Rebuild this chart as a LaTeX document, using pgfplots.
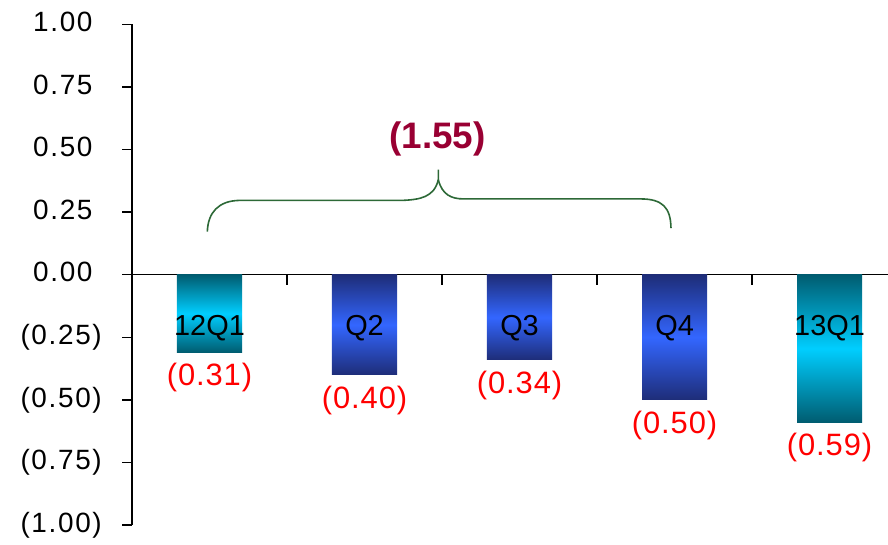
\documentclass[border=0pt]{standalone}
\usepackage{fontspec}
\setmainfont{Liberation Sans}
\usepackage{pgfplots}
\pgfplotsset{compat=1.18}
\definecolor{tealdark}{RGB}{0,92,112}
\definecolor{cyanlight}{RGB}{0,206,255}
\definecolor{navy}{RGB}{30,45,120}
\definecolor{bblue}{RGB}{51,102,255}
\definecolor{bracegreen}{RGB}{45,105,55}
\definecolor{labelmaroon}{RGB}{153,0,51}
\begin{document}
\begin{tikzpicture}[x=1bp,y=1bp]
\useasboundingbox (0,0) rectangle (888,545);
\begin{axis}[
  at={(132bp,20bp)}, anchor=south west,
  scale only axis, width=756bp, height=500.5bp,
  xmin=-0.5, xmax=4.377, ymin=-1, ymax=1,
  axis x line=middle, axis y line=left,
  axis line style={-, line width=1.5bp, black},
  xtick={0.5,1.5,2.5,3.5}, xticklabels={},
  ytick={-1,-0.75,-0.5,-0.25,0,0.25,0.5,0.75,1},
  yticklabels={(1.00),(0.75),(0.50),(0.25),0.00\phantom{)},0.25\phantom{)},0.50\phantom{)},0.75\phantom{)},1.00\phantom{)}},
  tick align=outside, major tick length=10bp,
  tick style={line width=1.5bp, black},
  yticklabel style={font=\fontsize{28}{30}\selectfont\addfontfeature{LetterSpace=6}, inner sep=0pt, anchor=east, xshift=-20bp},
  /pgf/number format/assume math mode=true,
  clip=false,
  point meta=explicit,
  nodes near coords={(\pgfmathprintnumber[fixed,fixed zerofill,precision=2]{\pgfplotspointmeta})},
  every node near coord/.append style={font=\fontsize{31}{33}\selectfont\addfontfeature{LetterSpace=3}, text=red, inner sep=0pt, anchor=north, yshift=-11bp},
  every axis plot/.append style={ybar, bar width=0.42, bar shift=0pt, draw=none},
]
\addplot[top color=tealdark, bottom color=tealdark, middle color=cyanlight] coordinates {(0,-0.31) [0.31]};
\addplot[top color=navy, bottom color=navy, middle color=bblue] coordinates {(1,-0.40) [0.40]};
\addplot[top color=navy, bottom color=navy, middle color=bblue] coordinates {(2,-0.34) [0.34]};
\addplot[top color=navy, bottom color=navy, middle color=bblue] coordinates {(3,-0.50) [0.50]};
\addplot[top color=tealdark, bottom color=tealdark, middle color=cyanlight] coordinates {(4,-0.59) [0.59]};

\node[anchor=base, font=\fontsize{29}{31}\selectfont] at (axis cs:0,-0.241) {12Q1};
\node[anchor=base, font=\fontsize{29}{31}\selectfont] at (axis cs:1,-0.241) {Q2};
\node[anchor=base, font=\fontsize{29}{31}\selectfont] at (axis cs:2,-0.241) {Q3};
\node[anchor=base, font=\fontsize{29}{31}\selectfont] at (axis cs:3,-0.241) {Q4};
\node[anchor=base, font=\fontsize{29}{31}\selectfont] at (axis cs:4,-0.241) {13Q1};

\draw[bracegreen, line width=1.6bp]
  (axis cs:-0.014,0.172) .. controls (axis cs:-0.01,0.25) and (axis cs:0.06,0.295) .. (axis cs:0.19,0.297)
  -- (axis cs:1.24,0.297) .. controls (axis cs:1.36,0.30) and (axis cs:1.45,0.31) .. (axis cs:1.476,0.38)
  -- (axis cs:1.476,0.42);
\draw[bracegreen, line width=1.6bp]
  (axis cs:1.476,0.38) .. controls (axis cs:1.50,0.32) and (axis cs:1.56,0.303) .. (axis cs:1.64,0.303)
  -- (axis cs:2.78,0.303) .. controls (axis cs:2.92,0.303) and (axis cs:2.975,0.27) .. (axis cs:2.977,0.186);
\node[anchor=base, font=\bfseries\fontsize{37}{40}\selectfont, text=labelmaroon] at (axis cs:1.471,0.506) {(1.55)};
\end{axis}
\end{tikzpicture}
\end{document}
